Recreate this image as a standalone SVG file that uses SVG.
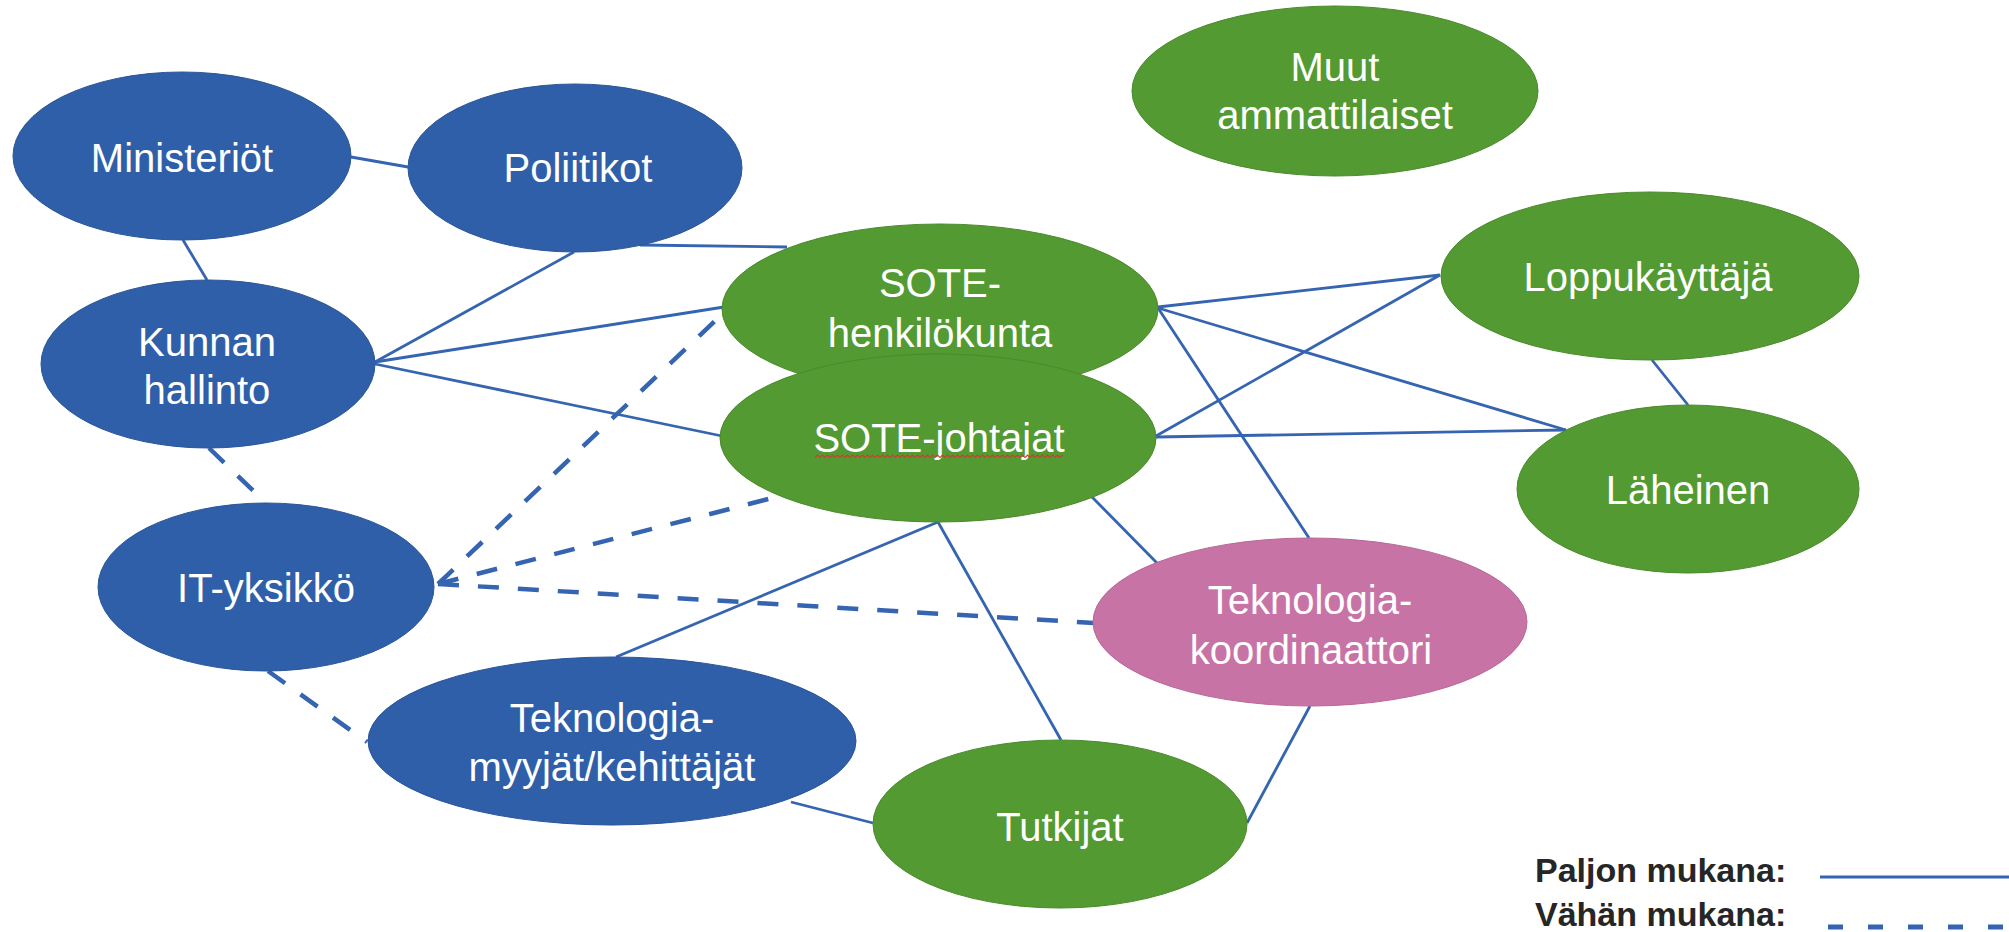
<svg xmlns="http://www.w3.org/2000/svg" width="2009" height="932" viewBox="0 0 2009 932">
<defs>
<style>
.blue{fill:#2F5FA9;stroke:#2A5597;stroke-width:1}
.green{fill:#529A31;stroke:#4A8A2C;stroke-width:1}
.pink{fill:#C873A6;stroke:#B86896;stroke-width:1}
.lbl{font-family:"Liberation Sans",Arial,sans-serif;font-size:40px;fill:#FFFFFF;text-anchor:middle}
.solid{stroke:#3564B0;stroke-width:2.8;fill:none}
.dash{stroke:#3564B0;stroke-width:4.5;fill:none;stroke-dasharray:21 19}
.leg{font-family:"Liberation Sans",Arial,sans-serif;font-size:34px;font-weight:bold;fill:#262626}
</style>
<pattern id="squig" x="815" y="454" width="5" height="5" patternUnits="userSpaceOnUse">
<path d="M0 3.5 L2.5 1 L5 3.5" stroke="#D03C2C" stroke-width="1.2" fill="none"/>
</pattern>
</defs>
<rect width="2009" height="932" fill="#FFFFFF"/>
<g id="connectors">
<path class="solid" d="M351 157 L408 167"/>
<path class="solid" d="M183 240 L207 280"/>
<path class="solid" d="M640 245 L787 247"/>
<path class="solid" d="M574 252 L375 362"/>
<path class="solid" d="M375 362 L724 307"/>
<path class="solid" d="M375 364 L722 436"/>
<path class="dash" d="M209 448 L266 503"/>
<path class="dash" d="M438 584 L716 320"/>
<path class="dash" d="M438 584 L780 496"/>
<path class="dash" d="M438 584 L1094 623"/>
<path class="dash" d="M268 671 L367 742"/>
<path class="solid" d="M616 657 L938 522"/>
<path class="solid" d="M938 522 L1061 740"/>
<path class="solid" d="M791 802 L873 823"/>
<path class="solid" d="M1310 706 L1247 823"/>
<path class="solid" d="M1092 497 L1157 563"/>
<path class="solid" d="M1158 308 L1309 538"/>
<path class="solid" d="M1158 307 L1440 275"/>
<path class="solid" d="M1158 308 L1566 430"/>
<path class="solid" d="M1156 436 L1440 275"/>
<path class="solid" d="M1156 437 L1566 430"/>
<path class="solid" d="M1652 360 L1688 405"/>
</g>
<g id="ministeriot"><ellipse class="blue" cx="182" cy="156" rx="169" ry="84"/><text class="lbl" x="182" y="172">Ministeriöt</text></g>
<g id="poliitikot"><ellipse class="blue" cx="575" cy="168" rx="167" ry="84"/><text class="lbl" x="578" y="182">Poliitikot</text></g>
<g id="kunnan-hallinto"><ellipse class="blue" cx="208" cy="364" rx="167" ry="84"/><text class="lbl" x="207" y="356">Kunnan</text><text class="lbl" x="207" y="404">hallinto</text></g>
<g id="it-yksikko"><ellipse class="blue" cx="266" cy="587" rx="168" ry="84"/><text class="lbl" x="266" y="602">IT-yksikkö</text></g>
<g id="teknologia-myyjat"><ellipse class="blue" cx="612" cy="741" rx="244" ry="84"/><text class="lbl" x="612" y="732">Teknologia-</text><text class="lbl" x="612" y="781">myyjät/kehittäjät</text></g>
<g id="tutkijat"><ellipse class="green" cx="1060" cy="824" rx="187" ry="84"/><text class="lbl" x="1060" y="841">Tutkijat</text></g>
<g id="sote-henkilokunta"><ellipse class="green" cx="940" cy="309" rx="218" ry="85"/><text class="lbl" x="940" y="297">SOTE-</text><text class="lbl" x="940" y="347">henkilökunta</text></g>
<g id="sote-johtajat"><ellipse class="green" cx="938" cy="438" rx="218" ry="84"/><text class="lbl" x="939" y="452">SOTE-johtajat</text><rect x="815" y="454" width="248" height="5" fill="url(#squig)"/></g>
<g id="teknologia-koordinaattori"><ellipse class="pink" cx="1310" cy="622" rx="217" ry="84"/><text class="lbl" x="1310" y="614">Teknologia-</text><text class="lbl" x="1311" y="664">koordinaattori</text></g>
<g id="loppukayttaja"><ellipse class="green" cx="1650" cy="276" rx="209" ry="84"/><text class="lbl" x="1648" y="291">Loppukäyttäjä</text></g>
<g id="laheinen"><ellipse class="green" cx="1688" cy="489" rx="171" ry="84"/><text class="lbl" x="1688" y="504">Läheinen</text></g>
<g id="muut-ammattilaiset"><ellipse class="green" cx="1335" cy="91" rx="203" ry="85"/><text class="lbl" x="1335" y="81">Muut</text><text class="lbl" x="1335" y="129">ammattilaiset</text></g>
<g id="legend">
<text class="leg" x="1535" y="882">Paljon mukana:</text>
<text class="leg" x="1535" y="926">Vähän mukana:</text>
<line x1="1820" y1="877" x2="2009" y2="877" stroke="#3564B0" stroke-width="3.2"/>
<line x1="1828" y1="927" x2="2009" y2="927" stroke="#3564B0" stroke-width="5" stroke-dasharray="15 25"/>
</g>
</svg>
